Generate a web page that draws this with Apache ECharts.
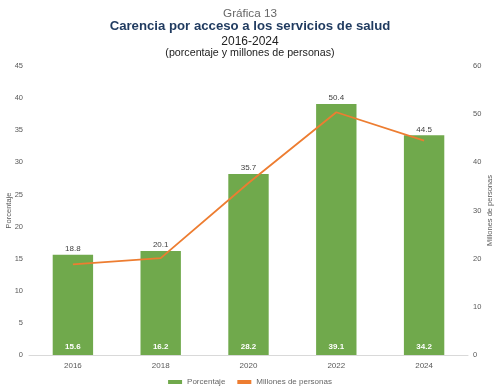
<!DOCTYPE html>
<html><head><meta charset="utf-8">
<script src="https://cdn.jsdelivr.net/npm/echarts@6/dist/echarts.min.js"></script>
<style>html,body{margin:0;padding:0;background:#fff}#c{width:500px;height:386px}</style>
</head><body><div id="c"></div>
<script>
const categories = ['2016','2018','2020','2022','2024'];
const porcentaje = [15.6, 16.2, 28.2, 39.1, 34.2];
const millones = [18.8, 20.1, 35.7, 50.4, 44.5];
const leftTicks = {min:0, max:45, interval:5};
const rightTicks = {min:0, max:60, interval:10};

const chart = echarts.init(document.getElementById('c'));
const font = 'Liberation Sans, Arial, sans-serif';
chart.setOption({
  animation:false,
  textStyle:{fontFamily:font},
  title:[
    {text:'Gráfica 13', left:'center', top:3, textStyle:{fontSize:11.7, fontWeight:'normal', color:'#666', fontFamily:font}},
    {text:'Carencia por acceso a los servicios de salud', left:'center', top:15, textStyle:{fontSize:13.2, fontWeight:'bold', color:'#1f3a5f', fontFamily:font}},
    {text:'2016-2024', left:'center', top:31, textStyle:{fontSize:12, fontWeight:'normal', color:'#222', fontFamily:font}},
    {text:'(porcentaje y millones de personas)', left:'center', top:43, textStyle:{fontSize:10.7, fontWeight:'normal', color:'#222', fontFamily:font}}
  ],
  legend:{
    data:['Porcentaje','Millones de personas'], top:373, left:'center', itemWidth:14, itemHeight:4, itemGap:12,
    textStyle:{fontSize:8, color:'#666', fontFamily:font},
    icon:'rect'
  },
  grid:{left:29, right:32, top:66, bottom:31, containLabel:false, outerBoundsMode:'none'},
  xAxis:{type:'category', data:categories,
    axisLine:{lineStyle:{color:'#d9d9d9'}}, axisTick:{show:false},
    axisLabel:{fontSize:8, color:'#595959', margin:7}},
  yAxis:[
    {type:'value', min:leftTicks.min, max:leftTicks.max, interval:leftTicks.interval,
      name:'Porcentaje', nameLocation:'middle', nameGap:16, nameRotate:90, nameMoveOverlap:false,
      nameTextStyle:{fontSize:7.5, color:'#595959'},
      axisLine:{show:false}, axisTick:{show:false}, splitLine:{show:false},
      axisLabel:{fontSize:7.5, color:'#595959', margin:6}},
    {type:'value', min:rightTicks.min, max:rightTicks.max, interval:rightTicks.interval,
      name:'Millones de personas', nameLocation:'middle', nameGap:18, nameRotate:90, nameMoveOverlap:false,
      nameTextStyle:{fontSize:7.5, color:'#595959'},
      axisLine:{show:false}, axisTick:{show:false}, splitLine:{show:false},
      axisLabel:{fontSize:7.5, color:'#595959', margin:5}}
  ],
  series:[
    {name:'Porcentaje', type:'bar', data:porcentaje, barWidth:'46%', yAxisIndex:0,
      itemStyle:{color:'#70a94c'},
      label:{show:true, position:'insideBottom', distance:4, fontSize:8, fontWeight:'bold', color:'#fff', formatter:p=>p.value.toFixed(1)}},
    {name:'labels', type:'bar', data:porcentaje, barWidth:'46%', barGap:'-100%', yAxisIndex:0,
      itemStyle:{color:'rgba(0,0,0,0)'}, silent:true,
      label:{show:true, position:'top', distance:2, fontSize:8, color:'#404040', formatter:p=>millones[p.dataIndex].toFixed(1)}},
    {name:'Millones de personas', type:'line', data:millones, yAxisIndex:1,
      symbol:'none', lineStyle:{color:'#ed7d31', width:1.8}, itemStyle:{color:'#ed7d31'}, z:5}
  ]
});
</script></body></html>
